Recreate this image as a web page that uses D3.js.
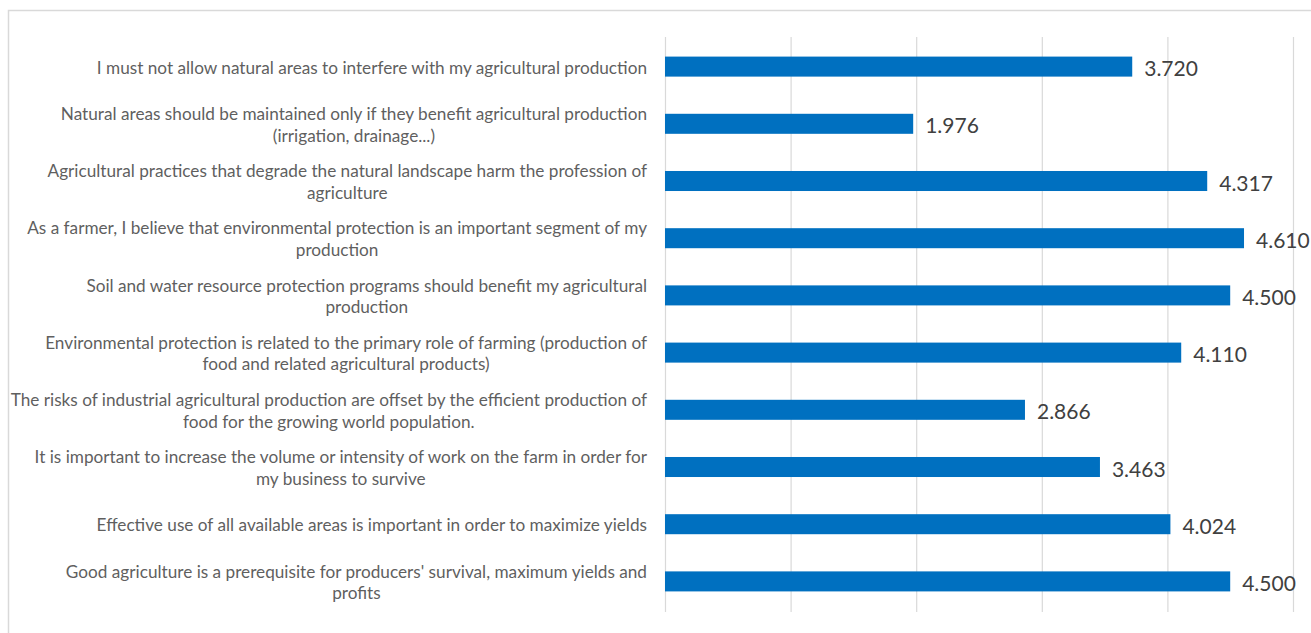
<!DOCTYPE html>
<html><head><meta charset="utf-8">
<script src="https://cdn.jsdelivr.net/npm/d3@7"></script>
<style>body{margin:0;background:#fff;overflow:hidden}</style>
</head><body>
<svg id="c" width="1311" height="633"></svg>
<script>
const categories = [
  "I must not allow natural areas to interfere with my agricultural production",
  "Natural areas should be maintained only if they benefit agricultural production\n(irrigation, drainage...)",
  "Agricultural practices that degrade the natural landscape harm the profession of\nagriculture",
  "As a farmer, I believe that environmental protection is an important segment of my\nproduction",
  "Soil and water resource protection programs should benefit my agricultural\nproduction",
  "Environmental protection is related to the primary role of farming (production of\nfood and related agricultural products)",
  "The risks of industrial agricultural production are offset by the efficient production of\nfood for the growing world population.",
  "It is important to increase the volume or intensity of work on the farm in order for\nmy business to survive",
  "Effective use of all available areas is important in order to maximize yields",
  "Good agriculture is a prerequisite for producers' survival, maximum yields and\nprofits"
];
const values = [3.720, 1.976, 4.317, 4.610, 4.500, 4.110, 2.866, 3.463, 4.024, 4.500];
const xTicks = [0, 1, 2, 3, 4, 5];

const svg = d3.select("#c");
svg.append("rect").attr("x", 8.5).attr("y", 10.5).attr("width", 1400).attr("height", 700)
  .attr("fill", "#fff").attr("stroke", "#d9d9d9").attr("stroke-width", 1.5);

const x = d3.scaleLinear().domain([0, 5]).range([665, 1293]);
const y = d3.scaleBand().domain(d3.range(categories.length)).range([38, 610])
  .paddingInner(0.65).paddingOuter(0.325);

const grid = svg.append("g").attr("transform", "translate(0,612)")
  .call(d3.axisBottom(x).tickValues(xTicks).tickSize(-575).tickFormat(""));
grid.select(".domain").remove();
grid.selectAll(".tick line").attr("stroke", "#d9d9d9").attr("stroke-width", 1.2);

svg.append("g").selectAll("rect").data(values).join("rect")
  .attr("x", x(0)).attr("y", (d, i) => y(i)).attr("width", d => x(d) - x(0))
  .attr("height", y.bandwidth()).attr("fill", "#0070C0");

svg.append("g").selectAll("text").data(values).join("text")
  .attr("x", d => x(d) + 12).attr("y", (d, i) => y(i) + y.bandwidth() / 2 + 1)
  .attr("dominant-baseline", "central")
  .attr("font-family", "Lato, 'Open Sans', sans-serif").attr("font-size", 21)
  .attr("fill", "#404040").text(d => d.toFixed(3));

const labelRight = 647;
const lineH = 21.5;
const lg = svg.append("g").attr("font-family", "Lato, 'Open Sans', sans-serif")
  .attr("font-size", 17.2).attr("fill", "#5f5f5f");
categories.forEach((c, i) => {
  const lines = c.split("\n");
  const cy = y(i) + y.bandwidth() / 2;
  const t = lg.append("text").attr("text-anchor", "middle").attr("dominant-baseline", "central");
  const spans = lines.map((l, k) => t.append("tspan").text(l)
    .attr("y", cy + (k - (lines.length - 1) / 2) * lineH));
  const w = d3.max(spans, s => s.node().getComputedTextLength());
  spans.forEach(s => s.attr("x", labelRight - w / 2));
});
</script>
</body></html>
